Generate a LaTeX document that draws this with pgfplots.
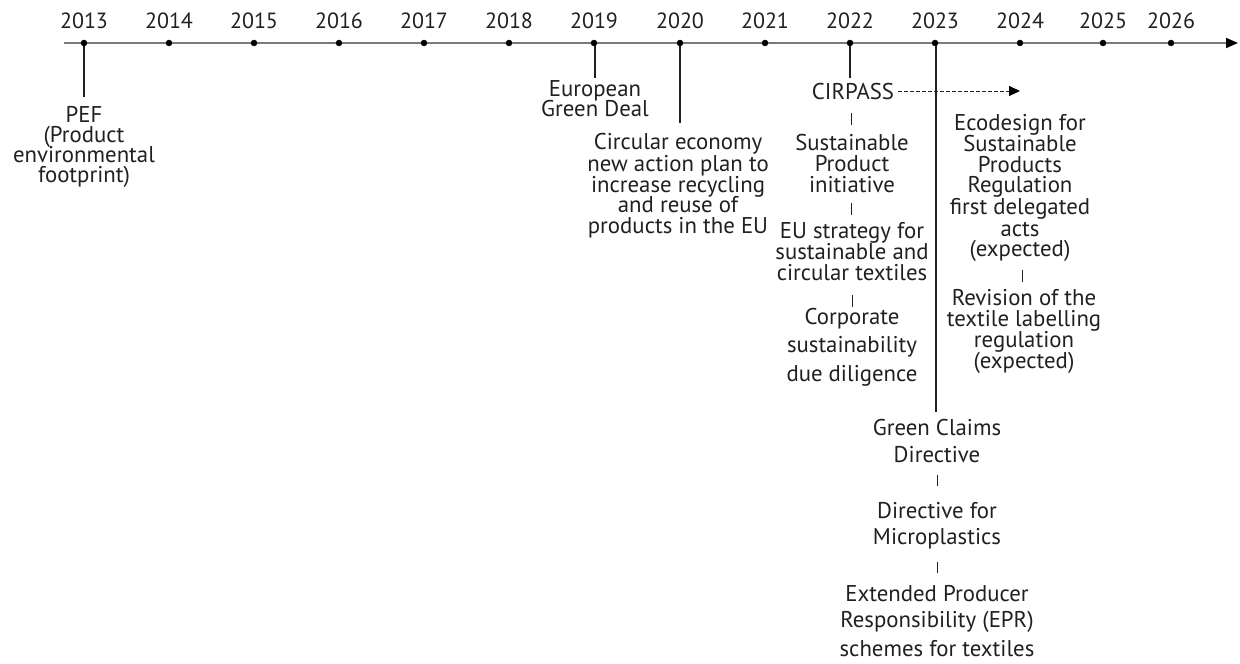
\documentclass[border=0pt]{standalone}
\usepackage{fontspec}
\setmainfont{PT Sans}
\usepackage{pgfplots}
\pgfplotsset{compat=1.18}
\usetikzlibrary{arrows.meta}
\definecolor{txt}{HTML}{231F20}
\definecolor{axgray}{HTML}{7A7A7A}
\newcommand\tl[3]{\node[anchor=base,inner sep=0pt,text=txt,font=\fontsize{22.8}{22.8}\selectfont] at (axis cs:#1,-#2) {#3};}
\newcommand\yl[3]{\node[anchor=base,inner sep=0pt,text=txt,font=\fontsize{22}{22}\selectfont] at (axis cs:#1,-#2) {#3};}
\begin{document}
\begin{tikzpicture}
\begin{axis}[
  scale only axis, width=1240pt, height=664pt,
  xmin=0, xmax=1240, ymin=-664, ymax=0,
  hide axis, clip=false]
\path (axis cs:0,0) rectangle (axis cs:1240,-664);
% main axis
\addplot[axgray, line width=1.8pt, -{Triangle[length=12pt,width=10pt,color=black]}] coordinates {(64,-43) (1238,-43)};
% connectors
\addplot[txt, line width=1.1pt] coordinates {(84,-43) (84,-97)};
\addplot[txt, line width=1.1pt] coordinates {(595,-43) (595,-78)};
\addplot[txt, line width=1.1pt] coordinates {(680,-43) (680,-123)};
\addplot[txt, line width=1.1pt] coordinates {(850,-43) (850,-78)};
\addplot[txt, line width=1.1pt] coordinates {(936,-43) (936,-412)};
% small ticks
\addplot[txt, line width=0.8pt] coordinates {(851,-113) (851,-125)};
\addplot[txt, line width=0.8pt] coordinates {(851,-203) (851,-215)};
\addplot[txt, line width=0.8pt] coordinates {(852,-295) (852,-307)};
\addplot[txt, line width=0.8pt] coordinates {(937,-475) (937,-486)};
\addplot[txt, line width=0.8pt] coordinates {(937,-562) (937,-573)};
\addplot[txt, line width=0.8pt] coordinates {(1022,-270) (1022,-282)};
% dashed arrow
\addplot[txt, line width=0.9pt, dash pattern=on 3.5pt off 2.5pt, -{Triangle[length=11pt,width=10pt,color=black]}] coordinates {(898,-91) (1020,-91)};
% year dots
\addplot[only marks, mark=*, mark size=3pt, black] coordinates {
(84,-43) (169,-43) (254,-43) (339,-43) (424,-43) (509,-43) (594,-43)
(680,-43) (765,-43) (850,-43) (935,-43) (1020,-43) (1103,-43) (1171,-43)};
% year labels
\yl{84}{29}{2013}
\yl{169}{29}{2014}
\yl{254}{29}{2015}
\yl{339}{29}{2016}
\yl{424}{29}{2017}
\yl{509}{29}{2018}
\yl{594}{29}{2019}
\yl{680}{29}{2020}
\yl{765}{29}{2021}
\yl{850}{29}{2022}
\yl{935}{29}{2023}
\yl{1020}{29}{2024}
\yl{1103}{29}{2025}
\yl{1171}{29}{2026}
% PEF
\tl{84}{122.7}{PEF}
\tl{84}{142.7}{(Product}
\tl{84}{162.7}{environmental}
\tl{84}{182.7}{footprint)}
% European Green Deal
\tl{595}{97}{European}
\tl{595}{117}{Green Deal}
% Circular economy
\tl{678}{150}{Circular economy}
\tl{678}{171.7}{new action plan to}
\tl{678}{192.3}{increase recycling}
\tl{678}{212.7}{and reuse of}
\tl{678}{233.3}{products in the EU}
% 2022 block
\tl{853}{100}{CIRPASS}
\tl{852}{150.7}{Sustainable}
\tl{852}{171.7}{Product}
\tl{852}{192.7}{initiative}
\tl{852}{239}{EU strategy for}
\tl{852}{260}{sustainable and}
\tl{852}{281}{circular textiles}
\tl{852}{325}{Corporate}
\tl{852}{353}{sustainability}
\tl{852}{381.7}{due diligence}
% 2023 block
\tl{937}{436}{Green Claims}
\tl{937}{462.7}{Directive}
\tl{937}{518.3}{Directive for}
\tl{937}{545}{Microplastics}
\tl{937}{601.7}{Extended Producer}
\tl{937}{628}{Responsibility (EPR)}
\tl{937}{656.7}{schemes for textiles}
% 2024 block
\tl{1020}{130.7}{Ecodesign for}
\tl{1020}{151.7}{Sustainable}
\tl{1020}{172.7}{Products}
\tl{1020}{193}{Regulation}
\tl{1020}{215}{first delegated}
\tl{1020}{236.7}{acts}
\tl{1020}{256.7}{(expected)}
\tl{1024}{306}{Revision of the}
\tl{1024}{326.7}{textile labelling}
\tl{1024}{348}{regulation}
\tl{1024}{369}{(expected)}
\end{axis}
\end{tikzpicture}
\end{document}
